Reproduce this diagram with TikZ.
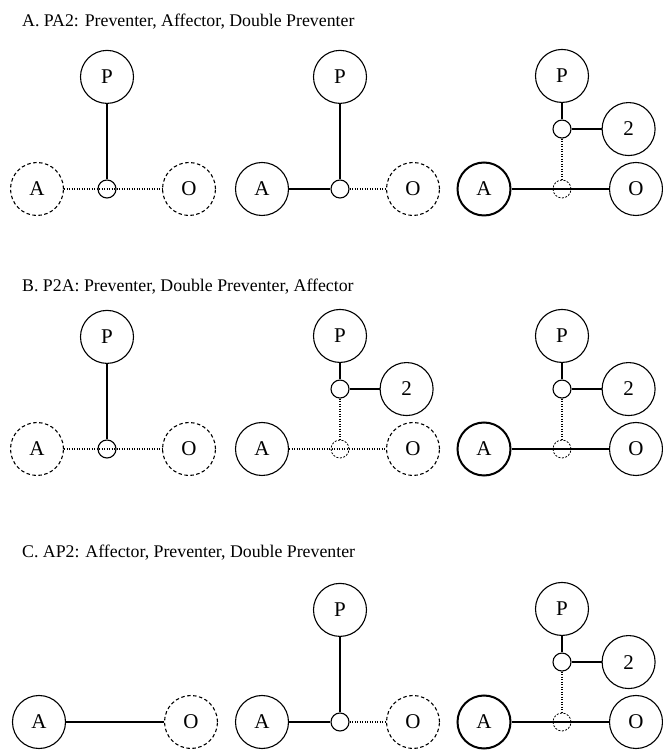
\documentclass[tikz,border=0pt]{standalone}
\usepackage{fontspec}
\setmainfont{Liberation Serif}
\usetikzlibrary{positioning}
\tikzset{
  agent/.style={draw,circle,line width=1.1pt,minimum size=53pt,inner sep=0pt,
    font=\fontsize{21}{24}\selectfont},
  ghost/.style={agent,dash pattern=on 3.5pt off 2.5pt},
  strong/.style={agent,line width=2pt},
  hub/.style={draw,circle,line width=1.1pt,minimum size=18pt,inner sep=0pt},
  ghosthub/.style={hub,line width=0.8pt,dash pattern=on 2pt off 1.5pt},
  heading/.style={anchor=base west,inner sep=0pt,
    font=\fontsize{17.8}{20}\selectfont},
  link/.style={line width=2pt},
  bond/.style={line width=2.6pt},
  thin link/.style={line width=1.5pt},
  weak/.style={line width=2.4pt,dash pattern=on 1.4pt off 1.1pt}
}
\begin{document}
\begin{tikzpicture}[x=1pt,y=1pt]
  \useasboundingbox (0,0) rectangle (663,750);
  % A. PA2
  \node[heading] (titleA) at (22,723) {A. PA2: Preventer, Affector, Double Preventer};
  \node[hub] (a1j) at (107,561) {};
  \node[ghost] (a1a) at (37,561) {A};
  \node[ghost] (a1o) at (189,561) {O};
  \node[agent,above=75.5pt of a1j] (a1p) {P};
  \draw[weak] (a1a) -- (a1o);
  \draw[link] (a1p) -- (a1j);

  \node[hub] (a2j) at (340,561) {};
  \node[agent] (a2a) at (262,561) {A};
  \node[ghost] (a2o) at (413,561) {O};
  \node[agent,above=75.5pt of a2j] (a2p) {P};
  \draw[link] (a2a) -- (a2j);
  \draw[weak] (a2j) -- (a2o);
  \draw[link] (a2p) -- (a2j);

  \node[ghosthub] (a3j) at (562,561) {};
  \node[hub,above=41pt of a3j] (a3k) {};
  \node[agent,above=16.5pt of a3k] (a3p) {P};
  \node[agent,right=30pt of a3k] (a3d) {2};
  \node[strong] (a3a) at (484,561) {A};
  \node[agent] (a3o) at (636,561) {O};
  \draw[bond] (a3a) -- (a3o);
  \draw[link] (a3p) -- (a3k);
  \draw[link] (a3k) -- (a3d);
  \draw[weak] (a3k) -- (a3j);

  % B. P2A
  \node[heading] (titleB) at (22,458) {B. P2A: Preventer, Double Preventer, Affector};
  \node[hub] (b1j) at (107,301) {};
  \node[ghost] (b1a) at (37,301) {A};
  \node[ghost] (b1o) at (189,301) {O};
  \node[agent,above=75.5pt of b1j] (b1p) {P};
  \draw[weak] (b1a) -- (b1o);
  \draw[link] (b1p) -- (b1j);

  \node[ghosthub] (b2j) at (340,301) {};
  \node[hub,above=41pt of b2j] (b2k) {};
  \node[agent,above=16.5pt of b2k] (b2p) {P};
  \node[agent,right=30pt of b2k] (b2d) {2};
  \node[agent] (b2a) at (262,301) {A};
  \node[ghost] (b2o) at (413,301) {O};
  \draw[weak] (b2a) -- (b2o);
  \draw[link] (b2p) -- (b2k);
  \draw[link] (b2k) -- (b2d);
  \draw[weak] (b2k) -- (b2j);

  \node[ghosthub] (b3j) at (562,301) {};
  \node[hub,above=41pt of b3j] (b3k) {};
  \node[agent,above=16.5pt of b3k] (b3p) {P};
  \node[agent,right=30pt of b3k] (b3d) {2};
  \node[strong] (b3a) at (484,301) {A};
  \node[agent] (b3o) at (636,301) {O};
  \draw[bond] (b3a) -- (b3o);
  \draw[link] (b3p) -- (b3k);
  \draw[link] (b3k) -- (b3d);
  \draw[weak] (b3k) -- (b3j);

  % C. AP2
  \node[heading] (titleC) at (22,192) {C. AP2: Affector, Preventer, Double Preventer};
  \node[agent] (c1a) at (39,28) {A};
  \node[ghost] (c1o) at (191,28) {O};
  \draw[thin link] (c1a) -- (c1o);

  \node[hub] (c2j) at (340,28) {};
  \node[agent] (c2a) at (262,28) {A};
  \node[ghost] (c2o) at (413,28) {O};
  \node[agent,above=75.5pt of c2j] (c2p) {P};
  \draw[link] (c2a) -- (c2j);
  \draw[weak] (c2j) -- (c2o);
  \draw[link] (c2p) -- (c2j);

  \node[ghosthub] (c3j) at (562,28) {};
  \node[hub,above=41pt of c3j] (c3k) {};
  \node[agent,above=16.5pt of c3k] (c3p) {P};
  \node[agent,right=30pt of c3k] (c3d) {2};
  \node[strong] (c3a) at (484,28) {A};
  \node[agent] (c3o) at (636,28) {O};
  \draw[bond] (c3a) -- (c3o);
  \draw[link] (c3p) -- (c3k);
  \draw[link] (c3k) -- (c3d);
  \draw[weak] (c3k) -- (c3j);
\end{tikzpicture}
\end{document}
